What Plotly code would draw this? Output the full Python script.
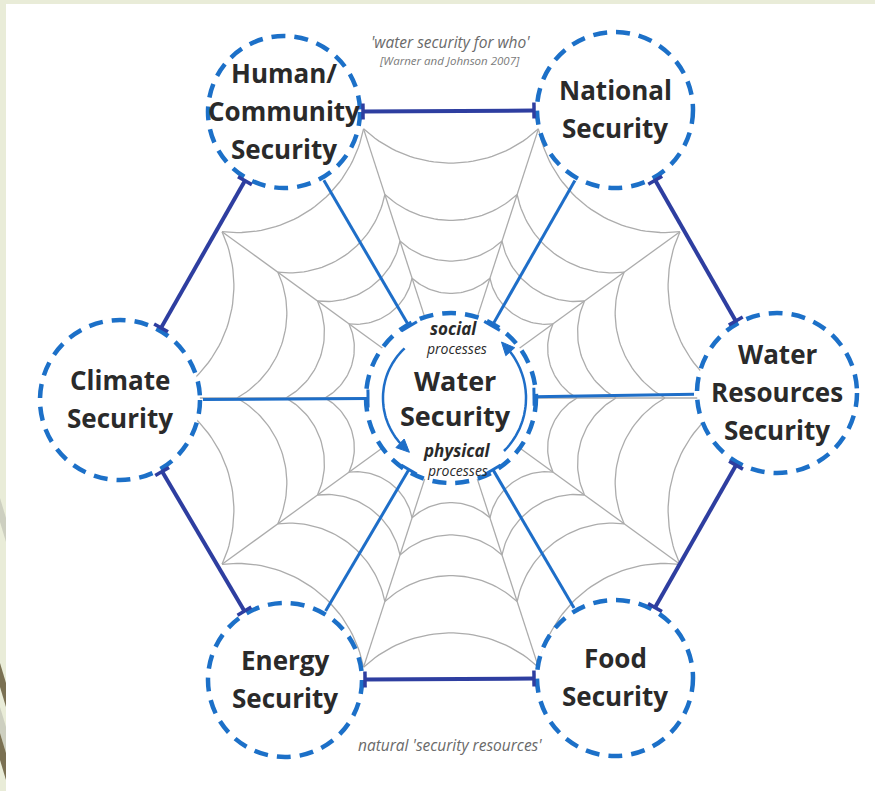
import numpy as np
import plotly.graph_objects as go

# ---------------- data ----------------
node_labels = [["Human/", "Community", "Security"], ["National", "Security"],
               ["Water", "Resources", "Security"], ["Food", "Security"],
               ["Energy", "Security"], ["Climate", "Security"]]
node_x = [284, 615, 777, 615, 285, 120]
node_y = [112, 110, 393, 678, 680, 400]
node_r = [76, 78, 80, 78, 77, 80]

hub_label = ["Water", "Security"]
hub_upper = ["social", "processes"]
hub_lower = ["physical", "processes"]
hub_x, hub_y, hub_r = 451, 398, 85

web_angles = [0, 36, 72, 108, 144, 180, 216, 252, 288, 324]
web_rings = [283, 214, 165, 126]

top_note = "'water security for who'"
top_ref = "[Warner and Johnson 2007]"
bottom_note = "natural 'security resources'"

# ---------------- styles ----------------
W, H = 875, 791
BEIGE = "rgb(233,236,216)"
DASH_BLUE = "rgb(28,112,200)"
EDGE_BLUE = "rgb(46,62,160)"
SPOKE_BLUE = "rgb(30,110,200)"
WEB_GRAY = "rgb(172,172,172)"
TEXT = "#2a2a2a"
FONT = "Open Sans"

fig = go.Figure()

# ---------------- spider web ----------------
def polar(r, a_deg):
    a = np.radians(a_deg)
    return hub_x + r * np.cos(a), hub_y - r * np.sin(a)

wx, wy = [], []
for a in web_angles:
    x0, y0 = polar(hub_r - 6, a)
    x1, y1 = polar(max(web_rings), a)
    wx += [x0, x1, None]
    wy += [y0, y1, None]

K = 0.83
for r in web_rings:
    for i, a1 in enumerate(web_angles):
        a2 = web_angles[(i + 1) % len(web_angles)] + (360 if i == len(web_angles) - 1 else 0)
        h = np.radians((a2 - a1) / 2)
        m = np.radians((a1 + a2) / 2)
        u = np.array([np.cos(m), -np.sin(m)])
        d = r * (1 - K * K) / (2 * (np.cos(h) - K))
        C = np.array([hub_x, hub_y]) + d * u
        P1 = np.array(polar(r, a1))
        P2 = np.array(polar(r, a2))
        p1 = np.arctan2(*(P1 - C)[::-1])
        p2 = np.arctan2(*(P2 - C)[::-1])
        diff = (p2 - p1 + np.pi) % (2 * np.pi) - np.pi
        R = d - K * r
        ts = np.linspace(p1, p1 + diff, 40)
        wx += list(C[0] + R * np.cos(ts)) + [None]
        wy += list(C[1] + R * np.sin(ts)) + [None]

fig.add_trace(go.Scatter(x=wx, y=wy, mode="lines",
                         line=dict(color=WEB_GRAY, width=1.3),
                         hoverinfo="skip", showlegend=False))

shapes = []
# white panel + left decorative strip
shapes.append(dict(type="rect", xref="x", yref="y", x0=6, y0=4, x1=W + 5, y1=H + 5,
                   fillcolor="white", line=dict(width=0), layer="below"))
for (ya, yb, col) in [(498, 522, "rgb(205,207,192)"), (663, 687, "rgb(122,112,82)"),
                      (707, 733, "rgb(205,207,192)"), (733, 760, "rgb(122,112,82)")]:
    shapes.append(dict(type="path", xref="x", yref="y",
                       path=f"M0,{ya} L0,{yb} L6,{yb + 20} L6,{ya + 20} Z",
                       fillcolor=col, line=dict(width=0), layer="below"))

# circles
def circle(cx, cy, r):
    return dict(type="circle", xref="x", yref="y", x0=cx - r, y0=cy - r, x1=cx + r, y1=cy + r,
                fillcolor="white", line=dict(color=DASH_BLUE, width=4.5, dash="14px,9px"),
                layer="above")

for cx, cy, r in zip(node_x, node_y, node_r):
    shapes.append(circle(cx, cy, r))
shapes.append(circle(hub_x, hub_y, hub_r))

def seg(p0, p1, color, width):
    return dict(type="line", xref="x", yref="y", x0=p0[0], y0=p0[1], x1=p1[0], y1=p1[1],
                line=dict(color=color, width=width), layer="above")

def tbar(p, d, length, color, width):
    n = np.array([-d[1], d[0]])
    return seg(p - n * length / 2, p + n * length / 2, color, width)

# hexagon edges
nodes = [np.array([x, y], float) for x, y in zip(node_x, node_y)]
for i in range(6):
    j = (i + 1) % 6
    d = nodes[j] - nodes[i]
    d /= np.linalg.norm(d)
    p0 = nodes[i] + d * (node_r[i] + 3)
    p1 = nodes[j] - d * (node_r[j] + 3)
    shapes.append(seg(p0, p1, EDGE_BLUE, 4))
    shapes.append(tbar(p0, d, 16, EDGE_BLUE, 3.5))
    shapes.append(tbar(p1, d, 16, EDGE_BLUE, 3.5))

# spokes to hub
hub = np.array([hub_x, hub_y], float)
for i in range(6):
    d = hub - nodes[i]
    d /= np.linalg.norm(d)
    p0 = nodes[i] + d * (node_r[i] + 3)
    p1 = hub - d * (hub_r - 2)
    shapes.append(seg(p0, p1, SPOKE_BLUE, 3))
    shapes.append(tbar(p1, d, 18, SPOKE_BLUE, 3))

# hub circular arrows
def arc_path(r, a0, a1, n=40):
    ts = np.radians(np.linspace(a0, a1, n))
    pts = [(hub_x + r * np.cos(t), hub_y - r * np.sin(t)) for t in ts]
    return "M" + " L".join(f"{x:.1f},{y:.1f}" for x, y in pts)

def head(r, a, sign, size=13, half=6):
    t = np.radians(a)
    p = np.array([hub_x + r * np.cos(t), hub_y - r * np.sin(t)])
    tang = sign * np.array([-np.sin(t), -np.cos(t)])
    nrm = np.array([-tang[1], tang[0]])
    tip = p + tang * size * 0.6
    b1 = p - tang * size * 0.4 + nrm * half
    b2 = p - tang * size * 0.4 - nrm * half
    return dict(type="path", xref="x", yref="y",
                path=f"M{tip[0]:.1f},{tip[1]:.1f} L{b1[0]:.1f},{b1[1]:.1f} L{b2[0]:.1f},{b2[1]:.1f} Z",
                fillcolor=SPOKE_BLUE, line=dict(color=SPOKE_BLUE, width=1), layer="above")

shapes.append(dict(type="path", xref="x", yref="y", path=arc_path(68, 133, 222),
                   line=dict(color=SPOKE_BLUE, width=2.5), layer="above"))
shapes.append(head(68, 226, 1))
shapes.append(dict(type="path", xref="x", yref="y", path=arc_path(75, -45, 38),
                   line=dict(color=SPOKE_BLUE, width=2.5), layer="above"))
shapes.append(head(75, 42, 1))

# ---------------- text ----------------
ann = []
def txt(x, y, s, size, color=TEXT, weight="bold", style="normal"):
    ann.append(dict(x=x, y=y, xref="x", yref="y", text=s, showarrow=False,
                    xanchor="center", yanchor="middle", borderpad=0,
                    font=dict(family=FONT, size=size, color=color, weight=weight, style=style)))

LS = 38
for lines, cx, cy in zip(node_labels, node_x, node_y):
    n = len(lines)
    for k, s in enumerate(lines):
        txt(cx, cy + (k - (n - 1) / 2) * LS - 1, s, 26)

txt(hub_x + 4, hub_y - 18, hub_label[0], 27)
txt(hub_x + 4, hub_y + 17, hub_label[1], 27)
txt(hub_x + 2, hub_y - 70, hub_upper[0], 17, weight="bold", style="italic")
txt(hub_x + 5, hub_y - 50, hub_upper[1], 14, weight="normal", style="italic")
txt(hub_x + 6, hub_y + 52, hub_lower[0], 17, weight="bold", style="italic")
txt(hub_x + 6, hub_y + 72, hub_lower[1], 14, weight="normal", style="italic")

txt(450, 42, top_note, 15.5, color="#6a6a6a", weight="normal", style="italic")
txt(449, 60, top_ref, 11.5, color="#7a7a7a", weight="normal", style="italic")
txt(450, 745, bottom_note, 15.5, color="#6a6a6a", weight="normal", style="italic")

fig.update_layout(
    width=W, height=H, autosize=False,
    margin=dict(l=0, r=0, t=0, b=0, pad=0),
    paper_bgcolor=BEIGE, plot_bgcolor=BEIGE,
    xaxis=dict(range=[0, W], visible=False, fixedrange=True),
    yaxis=dict(range=[H, 0], visible=False, fixedrange=True),
    shapes=shapes, annotations=ann, showlegend=False,
)

fig.write_html("out.html", config={"displayModeBar": False},
               post_script="document.body.style.margin='0px';")
